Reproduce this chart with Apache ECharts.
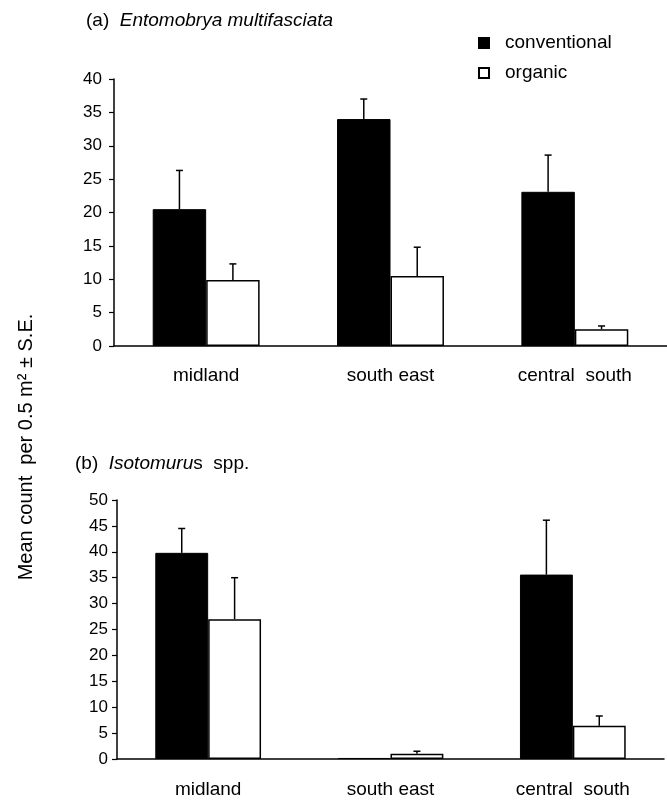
<!DOCTYPE html>
<html>
<head>
<meta charset="utf-8">
<script src="https://cdn.jsdelivr.net/npm/echarts@6/dist/echarts.min.js"></script>
<style>html,body{margin:0;padding:0;background:#fff}#c{width:667px;height:804px}</style>
</head>
<body>
<div id="c"></div>
<script>
const categories = ['midland', 'south east', 'central  south'];
const yTicksA = [0, 40, 5];   // min, max, interval
const yTicksB = [0, 50, 5];
// panel (a) Entomobrya multifasciata
const convA = [20.5, 34.0, 23.1];
const convAUpper = [26.3, 37.0, 28.6];
const orgA = [9.9, 10.5, 2.5];
const orgAUpper = [12.3, 14.8, 3.0];
// panel (b) Isotomurus spp.
const convB = [39.8, 0.2, 35.6];
const convBUpper = [44.5, 0.2, 46.1];
const orgB = [27.0, 1.0, 6.4];
const orgBUpper = [35.0, 1.5, 8.3];

const FONT = "'Liberation Sans', Arial, sans-serif";
const BAR_FRAC = 0.29;

function errSeries(name, vals, uppers, idx, side) {
  return {
    type: 'custom',
    name: name + '_err',
    xAxisIndex: idx, yAxisIndex: idx,
    z: 5,
    silent: true,
    data: vals.map((v, i) => [i, v, uppers[i]]),
    renderItem: function (params, api) {
      const x = api.value(0), v = api.value(1), u = api.value(2);
      if (u <= v) return null;
      const c = api.coord([x, v]);
      const cu = api.coord([x, u]);
      const bw = api.size([1, 0])[0] * BAR_FRAC;
      const cx = c[0] + side * bw / 2;
      const st = { stroke: '#000', lineWidth: 1.5 };
      return {
        type: 'group',
        children: [
          { type: 'line', shape: { x1: cx, y1: c[1], x2: cx, y2: cu[1] }, style: st },
          { type: 'line', shape: { x1: cx - 3.5, y1: cu[1], x2: cx + 3.5, y2: cu[1] }, style: st }
        ]
      };
    }
  };
}

function barSeries(name, vals, idx, conv) {
  return {
    type: 'bar',
    name: name,
    xAxisIndex: idx, yAxisIndex: idx,
    data: vals,
    barWidth: (BAR_FRAC * 100) + '%',
    barGap: '0%',
    itemStyle: conv ? { color: '#000', borderColor: '#000', borderWidth: 1 } :
                      { color: '#fff', borderColor: '#000', borderWidth: 1.5 },
    emphasis: { disabled: true }
  };
}

function xAxis(idx, margin) {
  return {
    type: 'category', gridIndex: idx, data: categories,
    axisLine: { show: true, lineStyle: { color: '#000', width: 1.5 } },
    axisTick: { show: false },
    axisLabel: { color: '#000', fontSize: 19, fontFamily: FONT, margin: margin, interval: 0 },
    splitLine: { show: false }
  };
}
function yAxis(idx, t, margin) {
  return {
    type: 'value', gridIndex: idx, min: t[0], max: t[1], interval: t[2],
    axisLine: { show: true, lineStyle: { color: '#000', width: 1.5 } },
    axisTick: { show: true, length: 5, lineStyle: { color: '#000', width: 1.2 } },
    axisLabel: { color: '#000', fontSize: 17, fontFamily: FONT, margin: margin },
    splitLine: { show: false }
  };
}

const chart = echarts.init(document.getElementById('c'), null, { renderer: 'canvas' });
chart.setOption({
  backgroundColor: '#fff',
  animation: false,
  title: [
    { text: '(a)  {i|Entomobrya multifasciata}', left: 81, top: 6,
      textStyle: { fontSize: 19, fontWeight: 'normal', color: '#000', fontFamily: FONT,
        rich: { i: { fontStyle: 'italic', fontSize: 19, color: '#000', fontFamily: FONT } } } },
    { text: '(b)  {i|Isotomuru}s  spp.', left: 70, top: 449,
      textStyle: { fontSize: 19, fontWeight: 'normal', color: '#000', fontFamily: FONT,
        rich: { i: { fontStyle: 'italic', fontSize: 19, color: '#000', fontFamily: FONT } } } }
  ],
  legend: {
    data: ['conventional', 'organic'],
    orient: 'vertical', left: 473, top: 28,
    icon: 'rect', itemWidth: 10, itemHeight: 10, itemGap: 10,
    selectedMode: false,
    textStyle: { fontSize: 19, color: '#000', fontFamily: FONT, lineHeight: 20, padding: [0, 0, 0, 11] }
  },
  grid: [
    { left: 114, top: 79, width: 561, height: 267 },
    { left: 117, top: 500, width: 547, height: 259 }
  ],
  xAxis: [xAxis(0, 20), xAxis(1, 21)],
  yAxis: [yAxis(0, yTicksA, 12), yAxis(1, yTicksB, 9)],
  graphic: [{
    type: 'text', x: 26, y: 447, rotation: Math.PI / 2,
    style: { text: 'Mean count  per 0.5 m² ± S.E.', fontSize: 20, fontFamily: FONT, fill: '#000',
      align: 'center', verticalAlign: 'middle' }
  }],
  series: [
    barSeries('conventional', convA, 0, true),
    barSeries('organic', orgA, 0, false),
    barSeries('conventional', convB, 1, true),
    barSeries('organic', orgB, 1, false),
    errSeries('conventional', convA, convAUpper, 0, -1),
    errSeries('organic', orgA, orgAUpper, 0, 1),
    errSeries('conventional', convB, convBUpper, 1, -1),
    errSeries('organic', orgB, orgBUpper, 1, 1)
  ]
});
</script>
</body>
</html>
